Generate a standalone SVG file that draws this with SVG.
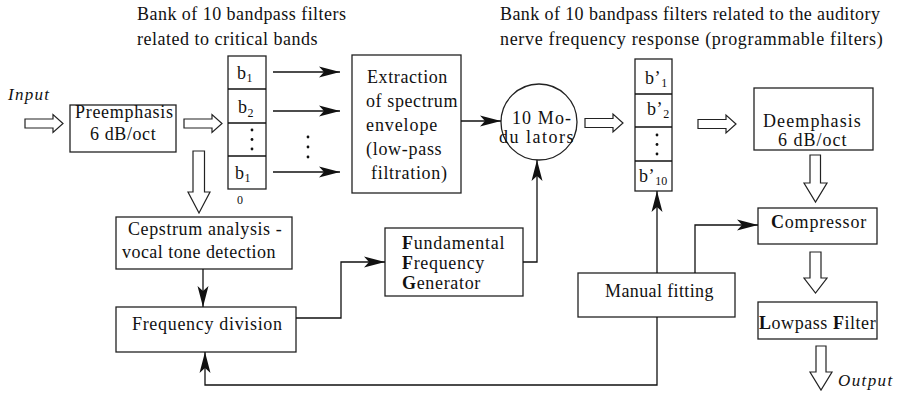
<svg xmlns="http://www.w3.org/2000/svg" width="897" height="399" viewBox="0 0 897 399">
  <style>
    .t { font-family: 'Liberation Serif', 'Times New Roman', serif; font-size: 18px; fill: #111; letter-spacing: 0.6px; }
    .it { font-style: italic; font-size: 17px; letter-spacing: 1.3px; }
    .sub { font-size: 12px; letter-spacing: 0; }
    .b { font-weight: bold; }
    .box { fill: #fff; stroke: #222; stroke-width: 1.3; }
    .line { fill: none; stroke: #111; stroke-width: 1.3; }
    .hollow { fill: #fff; stroke: #222; stroke-width: 1.2; stroke-linejoin: miter; }
    .dot { fill: #111; }
  </style>
  <defs>
    <marker id="head" markerUnits="userSpaceOnUse" markerWidth="24" markerHeight="14" viewBox="-22 -7 24 14" refX="0" refY="0" orient="auto">
      <path d="M-21,-5.5 L0,0 L-21,5.5 L-16,0 Z" fill="#111"/>
    </marker>
    <path id="rarrow" d="M0,-4.5 H28 V-9 L38,0 L28,9 V4.5 H0 Z"/>
  </defs>

  <!-- titles -->
  <g id="titles">
    <text class="t" x="137" y="20" style="letter-spacing:0.46px">Bank of 10 bandpass filters</text>
    <text class="t" x="137" y="45" style="letter-spacing:0.5px">related to critical bands</text>
    <text class="t" x="500" y="20" style="letter-spacing:0.4px">Bank of 10 bandpass filters related to the auditory</text>
    <text class="t" x="500" y="45" style="letter-spacing:0.67px">nerve frequency response (programmable filters)</text>
  </g>

  <g id="input">
    <text class="t it" x="8" y="100">Input</text>
  </g>

  <g id="preemphasis">
    <rect class="box" x="70" y="105" width="106" height="47"/>
    <text class="t" x="75" y="118" style="letter-spacing:0.7px">Preemphasis</text>
    <text class="t" x="90" y="140">6 dB/oct</text>
  </g>

  <g id="bank1">
    <rect class="box" x="228" y="56" width="38" height="133"/>
    <line class="line" x1="228" y1="89" x2="266" y2="89"/>
    <line class="line" x1="228" y1="123" x2="266" y2="123"/>
    <line class="line" x1="228" y1="156" x2="266" y2="156"/>
    <text class="t" x="237" y="79">b<tspan class="sub" dy="3">1</tspan></text>
    <text class="t" x="238" y="113">b<tspan class="sub" dy="4">2</tspan></text>
    <circle class="dot" cx="252" cy="130" r="1.4"/>
    <circle class="dot" cx="252" cy="139.5" r="1.4"/>
    <circle class="dot" cx="252" cy="149" r="1.4"/>
    <text class="t" x="235" y="179">b<tspan class="sub" dy="3">1</tspan></text>
    <text class="t sub" x="237" y="204">0</text>
  </g>

  <g id="extraction">
    <rect class="box" x="352" y="55" width="109" height="138"/>
    <text class="t" x="367" y="83">Extraction</text>
    <text class="t" x="366" y="107">of spectrum</text>
    <text class="t" x="366" y="131" style="letter-spacing:0.9px">envelope</text>
    <text class="t" x="366" y="155" style="letter-spacing:0.7px">(low-pass</text>
    <text class="t" x="371" y="179" style="letter-spacing:0.7px">filtration)</text>
  </g>

  <g id="modulators">
    <circle class="box" cx="539" cy="122" r="38"/>
    <text class="t" x="512" y="124" style="letter-spacing:1.1px">10 Mo-</text>
    <text class="t" x="499" y="143" style="letter-spacing:1.5px">du lators</text>
  </g>

  <g id="bank2">
    <rect class="box" x="635" y="59" width="37" height="132"/>
    <line class="line" x1="635" y1="94" x2="672" y2="94"/>
    <line class="line" x1="635" y1="127" x2="672" y2="127"/>
    <line class="line" x1="635" y1="161" x2="672" y2="161"/>
    <text class="t" x="645" y="84">b’<tspan class="sub" dy="3">1</tspan></text>
    <text class="t" x="647" y="115">b’<tspan class="sub" dy="3">2</tspan></text>
    <circle class="dot" cx="657" cy="135" r="1.4"/>
    <circle class="dot" cx="657" cy="144.5" r="1.4"/>
    <circle class="dot" cx="657" cy="154" r="1.4"/>
    <text class="t" x="639" y="182">b’<tspan class="sub" dy="3">10</tspan></text>
  </g>

  <g id="deemphasis">
    <rect class="box" x="754" y="88" width="119" height="62"/>
    <text class="t" x="763" y="127" style="letter-spacing:1.1px">Deemphasis</text>
    <text class="t" x="778" y="146" style="letter-spacing:1px">6 dB/oct</text>
  </g>

  <g id="cepstrum">
    <rect class="box" x="116" y="217" width="176" height="52"/>
    <text class="t" x="128" y="235">Cepstrum analysis -</text>
    <text class="t" x="122" y="258" style="letter-spacing:0.45px">vocal tone detection</text>
  </g>

  <g id="frequency-division">
    <rect class="box" x="116" y="307" width="180" height="45"/>
    <text class="t" x="132" y="330" style="letter-spacing:0.68px">Frequency division</text>
  </g>

  <g id="generator">
    <rect class="box" x="385" y="228" width="138" height="68"/>
    <text class="t" x="402" y="249" style="letter-spacing:0.75px"><tspan class="b">F</tspan>undamental</text>
    <text class="t" x="402" y="269" style="letter-spacing:0.67px"><tspan class="b">F</tspan>requency</text>
    <text class="t" x="402" y="289" style="letter-spacing:0.67px"><tspan class="b">G</tspan>enerator</text>
  </g>

  <g id="manual-fitting">
    <rect class="box" x="578" y="273" width="157" height="44"/>
    <text class="t" x="605" y="297" style="letter-spacing:0.38px">Manual fitting</text>
  </g>

  <g id="compressor">
    <rect class="box" x="758" y="208" width="119" height="36"/>
    <text class="t" x="771" y="228" style="letter-spacing:0.8px"><tspan class="b">C</tspan>ompressor</text>
  </g>

  <g id="lowpass">
    <rect class="box" x="758" y="302" width="119" height="37"/>
    <text class="t" x="759" y="329" style="letter-spacing:0.55px"><tspan class="b">L</tspan>owpass <tspan class="b">F</tspan>ilter</text>
  </g>

  <g id="output">
    <text class="t it" x="838" y="386" style="letter-spacing:1.4px">Output</text>
  </g>

  <g id="connectors">
    <!-- hollow flow arrows -->
    <use href="#rarrow" class="hollow" transform="translate(25,123.5)"/>
    <use href="#rarrow" class="hollow" transform="translate(184,123.5)"/>
    <use href="#rarrow" class="hollow" transform="translate(585,123)"/>
    <use href="#rarrow" class="hollow" transform="translate(698,124)"/>
    <path class="hollow" d="M193,151 H204.5 V192 H210 L199,213 L188,192 H193 Z"/>
    <path class="hollow" d="M810,155 H820.5 V183 H827 L815.5,202 L804,183 H810 Z"/>
    <path class="hollow" d="M810,252 H821 V278 H827 L815.5,293 L804,278 H810 Z"/>
    <path class="hollow" d="M816,346 H826 V372 H832 L821,390 L810,372 H816 Z"/>

    <!-- filter bank outputs -->
    <line class="line" x1="273" y1="72" x2="340" y2="72" marker-end="url(#head)"/>
    <line class="line" x1="273" y1="111" x2="340" y2="111" marker-end="url(#head)"/>
    <line class="line" x1="273" y1="172" x2="340" y2="172" marker-end="url(#head)"/>
    <circle class="dot" cx="308" cy="137" r="1.4"/>
    <circle class="dot" cx="308" cy="147" r="1.4"/>
    <circle class="dot" cx="308" cy="157" r="1.4"/>

    <line class="line" x1="461" y1="121" x2="501" y2="121" marker-end="url(#head)"/>
    <line class="line" x1="203" y1="269" x2="203" y2="307" marker-end="url(#head)"/>
    <polyline class="line" points="296,318 341,318 341,262 385,262" marker-end="url(#head)"/>
    <polyline class="line" points="523,262 537,262 537,160" marker-end="url(#head)"/>
    <line class="line" x1="657" y1="273" x2="657" y2="191" marker-end="url(#head)"/>
    <polyline class="line" points="695,273 695,225 758,225" marker-end="url(#head)"/>
    <polyline class="line" points="657,317 657,385 205,385 205,352" marker-end="url(#head)"/>
  </g>
</svg>
